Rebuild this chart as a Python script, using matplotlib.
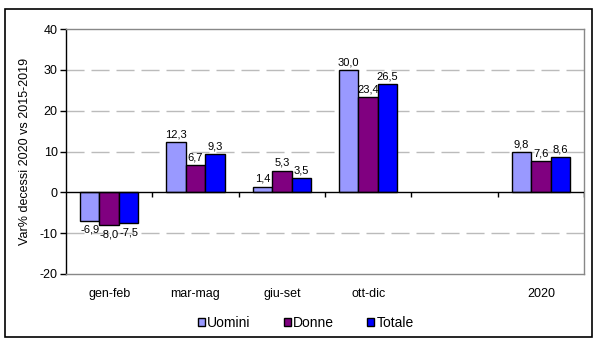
import numpy as np
import matplotlib
matplotlib.use('Agg')
import matplotlib.pyplot as plt
from matplotlib.patches import Rectangle

plt.rcParams['font.family'] = ['Liberation Sans', 'DejaVu Sans']

# data
categorie = ['gen-feb', 'mar-mag', 'giu-set', 'ott-dic', '', '2020']
uomini = [-6.9, 12.3, 1.4, 30.0, np.nan, 9.8]
donne = [-8.0, 6.7, 5.3, 23.4, np.nan, 7.6]
totale = [-7.5, 9.3, 3.5, 26.5, np.nan, 8.6]
serie = ['Uomini', 'Donne', 'Totale']
colori = ['#9999FF', '#800080', '#0000FF']
yticks = [-20, -10, 0, 10, 20, 30, 40]

fig = plt.figure(figsize=(6.0, 3.45), dpi=100)
ax = fig.add_axes([66/600., 1-274/345., 518/600., 245/345.])

x = np.arange(len(categorie))
w = 0.225
for k, (vals, nome, col) in enumerate(zip([uomini, donne, totale], serie, colori)):
    xs = x + (k-1)*w
    ax.bar(xs, vals, width=w, color=col, edgecolor='black', linewidth=1.0, label=nome, zorder=3)
    for xi, v in zip(xs, vals):
        if np.isnan(v):
            continue
        txt = ('%.1f' % v).replace('.', ',')
        if v >= 0:
            ax.annotate(txt, (xi, v), xytext=(0, 2), textcoords='offset points',
                        ha='center', va='bottom', fontsize=8, zorder=4)
        else:
            ax.annotate(txt, (xi, v), xytext=(0, -3), textcoords='offset points',
                        ha='center', va='top', fontsize=8, zorder=4)

ax.set_xlim(-0.5, len(categorie)-0.5)
ax.set_ylim(-20, 40)
ax.set_yticks(yticks)
ax.set_yticklabels([str(t) for t in yticks], fontsize=9)
ax.set_xticks(x)
ax.set_xticklabels(categorie, fontsize=9)
ax.tick_params(axis='x', length=0, pad=10)
ax.tick_params(axis='y', direction='out', length=4, width=1, pad=2)

# dashed grid
for t in [-10, 10, 20, 30]:
    ax.axhline(t, color='#BBBBBB', linewidth=1.0, linestyle=(0, (13, 5)), zorder=1)

# zero axis with category ticks
ax.axhline(0, color='black', linewidth=1.0, zorder=5)
ax.vlines(np.arange(0.5, len(categorie)), -1.1, 0, color='black', linewidth=1.0, zorder=5)

for s in ['top', 'right', 'bottom']:
    ax.spines[s].set_color('#888888')
    ax.spines[s].set_linewidth(1.0)
ax.spines['left'].set_color('black')
ax.spines['left'].set_linewidth(1.0)

ax.set_ylabel('Var% decessi 2020 vs 2015-2019', fontsize=9)
ax.yaxis.set_label_coords(-0.068, 0.5)

leg = fig.legend(loc='center', bbox_to_anchor=(306/600., 1-323/345.), ncol=3, frameon=False,
                 fontsize=10, handlelength=0.5, handleheight=0.5, handletextpad=0.15,
                 columnspacing=2.4, borderpad=0)

# outer frame
fig.patches.append(Rectangle((5/600., 1-337/345.), 587/600., 328/345., transform=fig.transFigure,
                             fill=False, edgecolor='black', linewidth=1.2))

fig.savefig('out.png', dpi=100)
